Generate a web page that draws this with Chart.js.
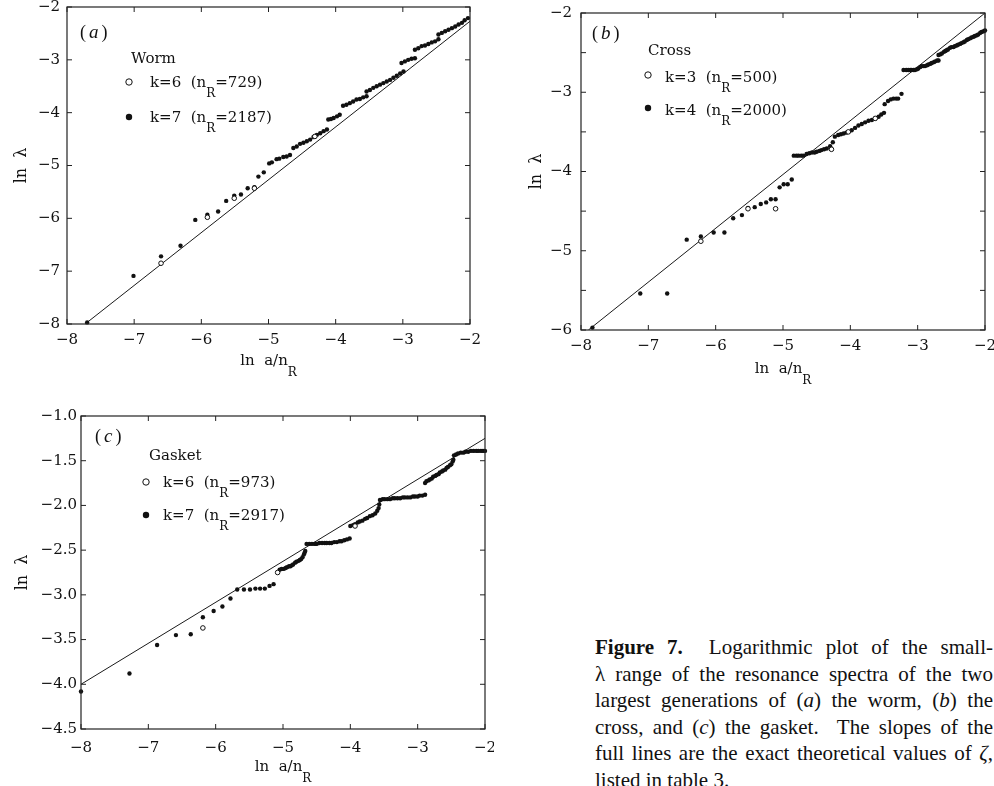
<!DOCTYPE html>
<html><head><meta charset="utf-8">
<script src="https://cdn.jsdelivr.net/npm/chart.js@4.4.1/dist/chart.umd.min.js"></script>
<style>
html,body{margin:0;padding:0;background:#fff;width:994px;height:786px;overflow:hidden;}
canvas{position:absolute;}
#caption{position:absolute;left:595px;top:634px;width:398px;font-family:"Liberation Serif","Times New Roman",serif;font-size:21px;line-height:26.6px;color:#111;}
#caption .ln{display:block;text-align:justify;text-align-last:justify;}
#caption .last{text-align:left;text-align-last:left;}
</style>
</head><body>
<canvas id="cA" width="494" height="380" style="left:0;top:0"></canvas>
<canvas id="cB" width="500" height="390" style="left:494px;top:0"></canvas>
<canvas id="cC" width="494" height="400" style="left:0;top:386px"></canvas>
<div id="caption">
<span class="ln"><b>Figure 7.</b>&nbsp; Logarithmic plot of the small-</span>
<span class="ln">λ range of the resonance spectra of the two</span>
<span class="ln">largest generations of (<i>a</i>) the worm, (<i>b</i>) the</span>
<span class="ln">cross, and (<i>c</i>) the gasket.&nbsp; The slopes of the</span>
<span class="ln">full lines are the exact theoretical values of <i>ζ</i>,</span>
<span class="ln last">listed in table 3.</span>
</div>
<script>
// ---------- tick values ----------
const xTickVals = [-8, -7, -6, -5, -4, -3, -2];
const yTicksA = [-8, -7, -6, -5, -4, -3, -2];
const yTicksB = [-6, -5, -4, -3, -2];
const yMinorB = [-5.5, -4.5, -3.5, -2.5];
const yTicksC = [-4.5, -4.0, -3.5, -3.0, -2.5, -2.0, -1.5, -1.0];

// ---------- legend labels ----------
const titleA = 'Worm', legA = [['k=6  (n', 'R', '=729)'], ['k=7  (n', 'R', '=2187)']];
const titleB = 'Cross', legB = [['k=3  (n', 'R', '=500)'], ['k=4  (n', 'R', '=2000)']];
const titleC = 'Gasket', legC = [['k=6  (n', 'R', '=973)'], ['k=7  (n', 'R', '=2917)']];

// ---------- (a) worm ----------
const wormLine = [[-7.73, -8.0], [-2.0, -2.27]];
const wormK6 = [[-6.60, -6.85], [-5.91, -5.98], [-5.51, -5.62], [-5.21, -5.43], [-4.31, -4.45]];
const wormK7 = [
  [-7.70, -7.97], [-7.01, -7.09], [-6.60, -6.72], [-6.31, -6.52], [-6.09, -6.03], [-5.91, -5.93],
  [-5.75, -5.87], [-5.63, -5.67], [-5.51, -5.57], [-5.41, -5.55], [-5.31, -5.43], [-5.21, -5.41],
  [-5.15, -5.21], [-5.07, -5.13], [-4.99, -4.96], [-4.95, -4.94], [-4.88, -4.88], [-4.84, -4.87],
  [-4.78, -4.84], [-4.73, -4.83], [-4.68, -4.80], [-4.63, -4.67], [-4.58, -4.64], [-4.53, -4.59],
  [-4.48, -4.57], [-4.43, -4.54], [-4.38, -4.51], [-4.33, -4.46], [-4.28, -4.42], [-4.23, -4.39],
  [-4.18, -4.35], [-4.13, -4.32], [-4.11, -4.13], [-4.07, -4.12], [-4.03, -4.10], [-3.98, -4.07],
  [-3.94, -4.04], [-3.89, -3.87], [-3.84, -3.85], [-3.79, -3.82], [-3.74, -3.79], [-3.69, -3.75],
  [-3.64, -3.74], [-3.59, -3.71], [-3.54, -3.69], [-3.54, -3.60], [-3.49, -3.57], [-3.44, -3.53],
  [-3.39, -3.50], [-3.34, -3.47], [-3.29, -3.44], [-3.24, -3.41], [-3.19, -3.38], [-3.14, -3.34],
  [-3.09, -3.30], [-3.04, -3.26], [-2.99, -3.22], [-3.02, -3.06], [-2.97, -3.03], [-2.92, -3.00],
  [-2.87, -2.98], [-2.82, -2.97], [-2.82, -2.81], [-2.77, -2.78], [-2.72, -2.74], [-2.67, -2.73],
  [-2.62, -2.70], [-2.57, -2.67], [-2.52, -2.65], [-2.47, -2.61], [-2.47, -2.52], [-2.42, -2.49],
  [-2.37, -2.46], [-2.32, -2.43], [-2.27, -2.40], [-2.22, -2.37], [-2.17, -2.33], [-2.12, -2.30],
  [-2.08, -2.25], [-2.03, -2.21]
];

// ---------- (b) cross ----------
const crossLine = [[-7.89, -6.0], [-2.0, -2.0]];
const crossK3 = [[-6.22, -4.88], [-5.52, -4.47], [-5.11, -4.47], [-4.28, -3.72], [-4.03, -3.50], [-3.63, -3.33]];
const crossK4 = [
  [-7.83, -5.97], [-7.12, -5.54], [-6.72, -5.54], [-6.43, -4.86], [-6.22, -4.82], [-6.03, -4.77],
  [-5.87, -4.77], [-5.74, -4.59], [-5.61, -4.55], [-5.52, -4.46], [-5.42, -4.45], [-5.33, -4.41],
  [-5.25, -4.39], [-5.18, -4.35], [-5.11, -4.35], [-5.05, -4.20], [-4.99, -4.16], [-4.93, -4.16],
  [-4.87, -4.10], [-4.84, -3.80], [-4.80, -3.80], [-4.77, -3.80], [-4.73, -3.80], [-4.70, -3.80],
  [-4.65, -3.78], [-4.61, -3.77], [-4.57, -3.76], [-4.53, -3.76], [-4.50, -3.75], [-4.46, -3.74],
  [-4.43, -3.73], [-4.39, -3.72], [-4.35, -3.71], [-4.30, -3.68], [-4.26, -3.63], [-4.23, -3.56],
  [-4.18, -3.54], [-4.14, -3.53], [-4.10, -3.52], [-4.06, -3.51], [-4.03, -3.50], [-3.98, -3.48],
  [-3.93, -3.45], [-3.88, -3.42], [-3.83, -3.40], [-3.78, -3.38], [-3.73, -3.36], [-3.68, -3.35],
  [-3.63, -3.33], [-3.58, -3.31], [-3.54, -3.28], [-3.50, -3.26], [-3.49, -3.15], [-3.44, -3.11],
  [-3.40, -3.09], [-3.36, -3.08], [-3.32, -3.08], [-3.29, -3.08], [-3.24, -3.02], [-3.21, -2.72],
  [-3.17, -2.72], [-3.14, -2.72], [-3.11, -2.72], [-3.09, -2.72], [-3.06, -2.72], [-3.04, -2.72],
  [-3.01, -2.71], [-2.99, -2.70], [-2.96, -2.68], [-2.94, -2.67], [-2.91, -2.67], [-2.89, -2.67],
  [-2.86, -2.66], [-2.84, -2.65], [-2.81, -2.64], [-2.79, -2.63], [-2.76, -2.62], [-2.74, -2.61],
  [-2.71, -2.60], [-2.69, -2.60], [-2.69, -2.53], [-2.66, -2.52], [-2.64, -2.51], [-2.61, -2.49],
  [-2.59, -2.48], [-2.57, -2.47], [-2.55, -2.46], [-2.52, -2.44], [-2.50, -2.43], [-2.47, -2.43],
  [-2.45, -2.42], [-2.42, -2.41], [-2.40, -2.40], [-2.37, -2.39], [-2.35, -2.38], [-2.32, -2.37],
  [-2.30, -2.36], [-2.27, -2.34], [-2.25, -2.33], [-2.22, -2.32], [-2.20, -2.31], [-2.17, -2.30],
  [-2.15, -2.29], [-2.12, -2.28], [-2.10, -2.27], [-2.07, -2.25], [-2.05, -2.24], [-2.02, -2.23],
  [-2.00, -2.22]
];

// ---------- (c) gasket ----------
const gasketLine = [[-8.0, -4.0], [-2.0, -1.25]];
const gasketK6 = [[-6.19, -3.37], [-5.08, -2.75], [-3.93, -2.23]];
const gasketK7 = [
  [-8.00, -4.08], [-7.28, -3.88], [-6.87, -3.56], [-6.59, -3.45], [-6.37, -3.44], [-6.19, -3.25],
  [-6.03, -3.18], [-5.90, -3.13], [-5.78, -3.04], [-5.68, -2.94], [-5.58, -2.94], [-5.49, -2.94],
  [-5.41, -2.93], [-5.34, -2.93], [-5.27, -2.93], [-5.20, -2.90], [-5.14, -2.88],
  [-5.05, -2.72], [-5.02, -2.71], [-4.99, -2.71], [-4.96, -2.70], [-4.94, -2.69], [-4.91, -2.68],
  [-4.89, -2.68], [-4.87, -2.67], [-4.85, -2.66], [-4.82, -2.64], [-4.80, -2.63], [-4.77, -2.62],
  [-4.75, -2.61], [-4.73, -2.60], [-4.71, -2.58], [-4.69, -2.55], [-4.68, -2.53], [-4.67, -2.51],
  [-4.65, -2.43], [-4.61, -2.43], [-4.57, -2.43], [-4.53, -2.43], [-4.50, -2.43], [-4.46, -2.42],
  [-4.42, -2.42], [-4.38, -2.42], [-4.35, -2.42], [-4.31, -2.42], [-4.28, -2.42], [-4.24, -2.41],
  [-4.20, -2.41], [-4.16, -2.40], [-4.13, -2.40], [-4.09, -2.39], [-4.05, -2.38], [-4.01, -2.37],
  [-4.00, -2.23], [-3.96, -2.22], [-3.93, -2.21], [-3.89, -2.19], [-3.86, -2.18], [-3.82, -2.17],
  [-3.78, -2.15], [-3.75, -2.14], [-3.71, -2.12], [-3.67, -2.11], [-3.63, -2.09], [-3.60, -2.06],
  [-3.58, -2.03], [-3.57, -1.99],
  [-3.56, -1.94], [-3.52, -1.93], [-3.49, -1.93], [-3.45, -1.93], [-3.41, -1.93], [-3.37, -1.92],
  [-3.34, -1.92], [-3.30, -1.92], [-3.26, -1.92], [-3.22, -1.91], [-3.19, -1.91], [-3.15, -1.91],
  [-3.11, -1.91], [-3.07, -1.90], [-3.04, -1.90], [-3.00, -1.90], [-2.97, -1.89], [-2.93, -1.89],
  [-2.89, -1.88],
  [-2.89, -1.75], [-2.87, -1.73], [-2.84, -1.72], [-2.82, -1.71], [-2.79, -1.70], [-2.77, -1.68],
  [-2.74, -1.67], [-2.72, -1.66], [-2.69, -1.65], [-2.67, -1.63], [-2.64, -1.62], [-2.62, -1.61],
  [-2.59, -1.60], [-2.57, -1.58], [-2.55, -1.57], [-2.52, -1.55], [-2.50, -1.54], [-2.48, -1.51],
  [-2.47, -1.49],
  [-2.46, -1.44], [-2.43, -1.43], [-2.40, -1.42], [-2.36, -1.41], [-2.32, -1.41], [-2.29, -1.40],
  [-2.25, -1.40], [-2.21, -1.39], [-2.17, -1.39], [-2.13, -1.39], [-2.10, -1.39], [-2.06, -1.39],
  [-2.03, -1.39], [-2.00, -1.39]
];

// ---------- drawing helpers ----------
const INK = '#111';
const SERIF = '"DejaVu Serif", serif';
const TIMES = '"Liberation Serif", "Times New Roman", serif';
const toXY = arr => arr.map(p => ({x: p[0], y: p[1]}));
const fmtInt = v => (v < 0 ? '\u2212' : '') + Math.abs(v);
const fmt1 = v => (v < 0 ? '\u2212' : '') + Math.abs(v).toFixed(1);

function rich(ctx, parts, x, y, align) {
  let w = 0;
  parts.forEach(p => { ctx.font = p.font; p.w = ctx.measureText(p.t).width; w += p.w + (p.gap || 0); });
  let cx = align === 'center' ? x - w / 2 : x;
  ctx.textAlign = 'left';
  parts.forEach(p => { ctx.font = p.font; ctx.fillText(p.t, cx, y + (p.dy || 0)); cx += p.w + (p.gap || 0); });
}

const framePlugin = {
  id: 'frame',
  afterDraw(chart, args, o) {
    const {ctx, chartArea: a} = chart;
    const xs = chart.scales.x, ys = chart.scales.y;
    ctx.save();
    ctx.strokeStyle = '#222';
    ctx.lineWidth = 1.2;
    ctx.strokeRect(a.left, a.top, a.right - a.left, a.bottom - a.top);
    ctx.lineWidth = 1;
    ctx.beginPath();
    const tl = 5;
    xs.ticks.forEach(t => {
      const p = xs.getPixelForValue(t.value);
      ctx.moveTo(p, a.bottom); ctx.lineTo(p, a.bottom - tl);
      ctx.moveTo(p, a.top); ctx.lineTo(p, a.top + tl);
    });
    ys.ticks.map(t => t.value).concat(o.yMinor || []).forEach(v => {
      const p = ys.getPixelForValue(v);
      ctx.moveTo(a.left, p); ctx.lineTo(a.left + tl, p);
      ctx.moveTo(a.right, p); ctx.lineTo(a.right - tl, p);
    });
    ctx.stroke();

    ctx.fillStyle = INK;
    ctx.textBaseline = 'alphabetic';
    const main = '15px ' + SERIF, sub = '12px ' + SERIF;
    // x title
    rich(ctx, [{t: 'ln  a/n', font: main}, {t: 'R', font: sub, dy: 11}],
      (a.left + a.right) / 2, a.bottom + o.xTitleDy, 'center');
    // y title
    ctx.save();
    ctx.translate(a.left + o.yTitleDx, (a.top + a.bottom) / 2);
    ctx.rotate(-Math.PI / 2);
    ctx.textBaseline = 'middle';
    ctx.font = '16px ' + SERIF;
    ctx.textAlign = 'center';
    ctx.fillText('ln  \u03bb', 0, 0);
    ctx.restore();
    // panel label
    ctx.textBaseline = 'middle';
    rich(ctx, [{t: '(', font: '18px ' + TIMES, gap: 3}, {t: o.letter, font: 'italic 19px ' + TIMES, gap: 3},
      {t: ')', font: '18px ' + TIMES}], a.left + o.lab[0], a.top + o.lab[1], 'left');
    // legend
    ctx.textBaseline = 'alphabetic';
    ctx.font = '15px ' + SERIF;
    ctx.fillText(o.title, a.left + o.tit[0], a.top + o.tit[1]);
    o.leg.forEach((L, i) => {
      const mx = a.left + o.mk[0], my = a.top + o.mk[1 + i];
      ctx.beginPath();
      ctx.arc(mx, my, 3.2, 0, Math.PI * 2);
      if (i === 0) { ctx.lineWidth = 1; ctx.strokeStyle = INK; ctx.stroke(); }
      else { ctx.fillStyle = INK; ctx.fill(); }
      ctx.fillStyle = INK;
      rich(ctx, [{t: L[0], font: main}, {t: L[1], font: sub, dy: 10}, {t: L[2], font: main}],
        a.left + o.tx, my + o.bl, 'left');
    });
    ctx.restore();
  }
};

function panel(id, c) {
  const tickFont = {family: SERIF, size: 15};
  new Chart(document.getElementById(id), {
    type: 'scatter',
    data: {datasets: [
      {data: toXY(c.open), order: 0, pointStyle: 'circle', pointRadius: 2.3, backgroundColor: '#fff',
        borderColor: INK, borderWidth: 1, clip: 6},
      {data: toXY(c.filled), order: 1, pointStyle: 'circle', pointRadius: 2.2, backgroundColor: INK,
        borderColor: INK, borderWidth: 0, clip: 6},
      {data: toXY(c.line), order: 2, showLine: true, pointRadius: 0, borderColor: '#1a1a1a',
        borderWidth: 1, fill: false, tension: 0}
    ]},
    options: {
      responsive: false, animation: false, events: [],
      layout: {padding: c.pad},
      plugins: {legend: {display: false}, tooltip: {enabled: false}, frame: c.frame},
      scales: {
        x: {type: 'linear', min: -8, max: -2,
          afterBuildTicks: s => { s.ticks = xTickVals.map(v => ({value: v})); },
          afterFit: s => { s.height = c.xH; s.paddingLeft = 0; s.paddingRight = 0; },
          grid: {display: false, drawTicks: false}, border: {display: false},
          ticks: {padding: c.xPad, font: tickFont, color: INK, callback: fmtInt, maxRotation: 0, autoSkip: false}},
        y: {type: 'linear', min: c.yMin, max: c.yMax,
          afterBuildTicks: s => { s.ticks = c.yTicks.map(v => ({value: v})); },
          afterFit: s => { s.width = c.yW; s.paddingTop = 0; s.paddingBottom = 0; },
          grid: {display: false, drawTicks: false}, border: {display: false},
          ticks: {padding: c.yPad, font: tickFont, color: INK, callback: c.fmt, autoSkip: false}}
      }
    },
    plugins: [framePlugin]
  });
}

panel('cA', {
  open: wormK6, filled: wormK7, line: wormLine, yMin: -8, yMax: -2, yTicks: yTicksA, fmt: fmtInt,
  pad: {top: 7, right: 24, left: 0, bottom: 0}, yW: 67, xH: 56, xPad: 7, yPad: 7,
  frame: {letter: 'a', lab: [13, 26], title: titleA, tit: [64, 56], mk: [62, 75, 110], tx: 83, bl: 5,
    leg: legA, xTitleDy: 41, yTitleDx: -45}
});
panel('cB', {
  open: crossK3, filled: crossK4, line: crossLine, yMin: -6, yMax: -2, yTicks: yTicksB, fmt: fmtInt,
  pad: {top: 13, right: 9, left: 0, bottom: 0}, yW: 87, xH: 60, xPad: 7, yPad: 9,
  frame: {letter: 'b', lab: [11, 21], title: titleB, tit: [67, 42], mk: [67, 62, 95], tx: 84, bl: 7,
    leg: legB, xTitleDy: 43, yTitleDx: -44, yMinor: yMinorB}
});
panel('cC', {
  open: gasketK6, filled: gasketK7, line: gasketLine, yMin: -4.5, yMax: -1.0, yTicks: yTicksC, fmt: fmt1,
  pad: {top: 30, right: 9, left: 0, bottom: 0}, yW: 81, xH: 57, xPad: 10, yPad: 4,
  frame: {letter: 'c', lab: [14, 21], title: titleC, tit: [68, 44], mk: [65, 66, 99], tx: 82, bl: 5,
    leg: legC, xTitleDy: 42, yTitleDx: -58}
});
</script>
</body></html>
